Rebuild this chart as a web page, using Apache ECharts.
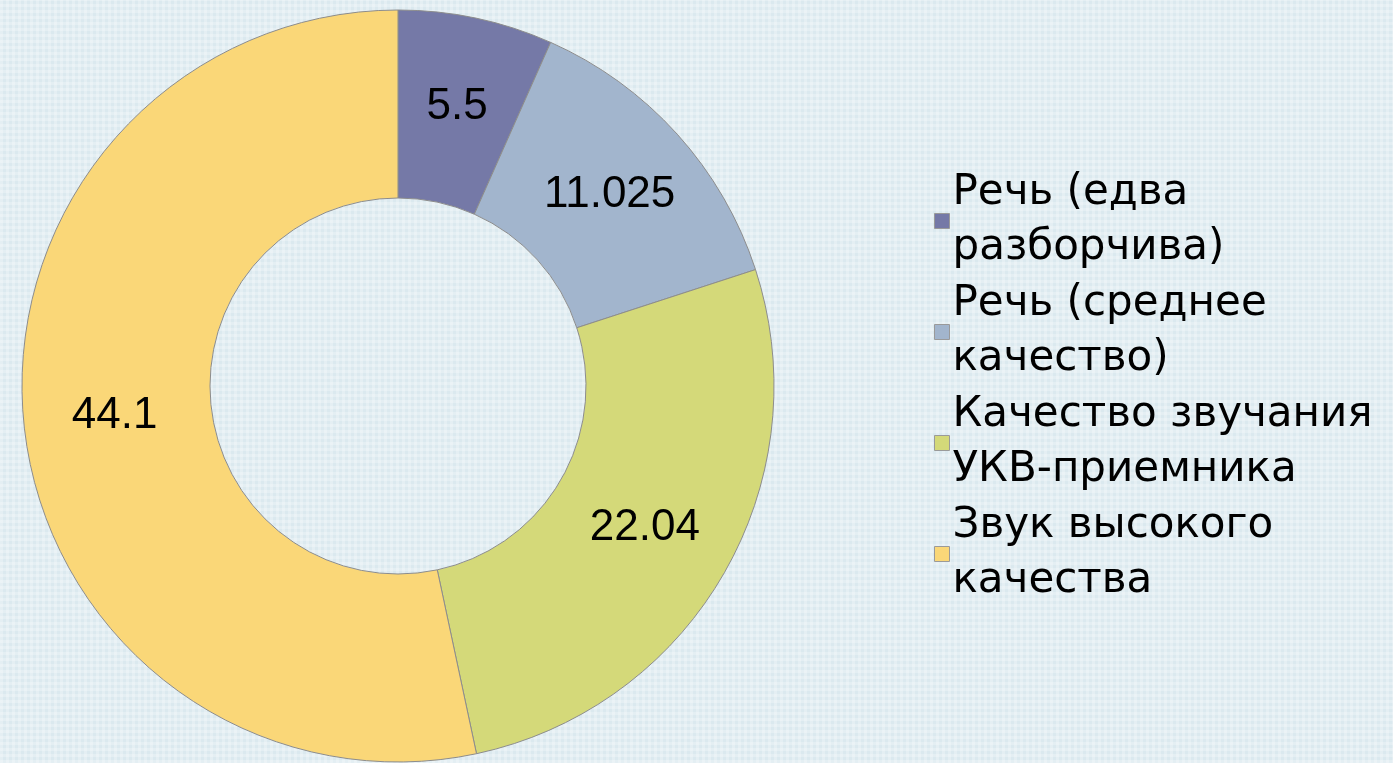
<!DOCTYPE html>
<html>
<head>
<meta charset="utf-8">
<script src="https://cdn.jsdelivr.net/npm/echarts@6/dist/echarts.min.js"></script>
<style>
  html, body { margin: 0; padding: 0; }
  body {
    background-color: #dbe9ef;
    background-image:
      repeating-linear-gradient(0deg, rgba(255,255,255,0.25) 0 3px, rgba(0,0,0,0) 3px 6px),
      repeating-linear-gradient(90deg, rgba(255,255,255,0.25) 0 3px, rgba(0,0,0,0) 3px 6px);
  }
  #chart { width: 1393px; height: 763px; }
</style>
</head>
<body>
<div id="chart"></div>
<script>
// категории и значения
var categories = [
  'Речь (едва\nразборчива)',
  'Речь (среднее\nкачество)',
  'Качество звучания\nУКВ-приемника',
  'Звук высокого\nкачества'
]
var values = [5.5, 11.025, 22.04, 44.1]
var colors = ['#7579a7', '#a2b5cd', '#d4d979', '#fad778']

var chart = echarts.init(document.getElementById('chart'))

var option = {
  backgroundColor: 'transparent',
  color: colors,
  legend: {
    orient: 'vertical',
    left: 929,
    top: 161,
    itemWidth: 15,
    itemHeight: 15,
    itemGap: 1,
    icon: 'rect',
    itemStyle: { borderColor: '#9a9a9a', borderWidth: 1 },
    textStyle: {
      fontFamily: 'DejaVu Sans, Liberation Sans, sans-serif',
      fontSize: 42,
      lineHeight: 55,
      color: '#000',
      padding: [0, 0, 0, -2]
    },
    data: categories
  },
  series: [
    {
      type: 'pie',
      center: [398, 386],
      radius: [188, 376],
      startAngle: 90,
      clockwise: true,
      avoidLabelOverlap: false,
      itemStyle: { borderColor: '#8c8c8c', borderWidth: 1 },
      label: {
        show: true,
        position: 'inside',
        formatter: function (p) { return String(p.value) },
        fontFamily: 'Liberation Sans, Arial, sans-serif',
        fontSize: 44,
        color: '#000'
      },
      labelLine: { show: false },
      emphasis: { disabled: true },
      data: categories.map(function (name, i) {
        return { name: name, value: values[i] }
      })
    }
  ]
}

chart.setOption(option)
</script>
</body>
</html>
